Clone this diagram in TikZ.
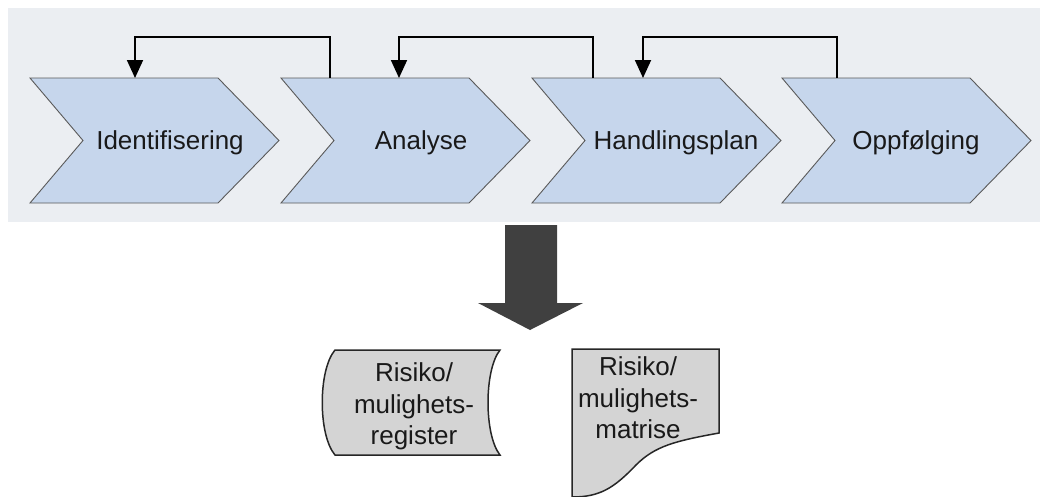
\documentclass[tikz,border=0pt]{standalone}
\usepackage{fontspec}
\setmainfont{Liberation Sans}
\usetikzlibrary{arrows.meta}
\definecolor{panel}{HTML}{EBEEF2}
\definecolor{chev}{HTML}{C6D6EC}
\definecolor{chevline}{HTML}{5A5A5A}
\definecolor{docfill}{HTML}{D4D4D4}
\definecolor{bigarrow}{HTML}{404040}
\tikzset{
  chevshape/.style={fill=chev, draw=chevline, line width=0.9pt, line join=miter},
  lbl/.style={font=\fontsize{26}{31.5}\selectfont, inner sep=0pt, text=black!90},
  fb/.style={draw=black, line width=1.8pt, -{Triangle[length=18pt,width=16pt]}},
  docshape/.style={fill=docfill, draw=black!85, line width=1.5pt},
}
\begin{document}
\begin{tikzpicture}[x=1pt,y=-1pt]
\useasboundingbox (0,0) rectangle (1040,496);
\fill[panel] (8,8) rectangle (1040,222);
% chevrons
\foreach \x in {30,281,532,782}{
  \filldraw[chevshape] (\x,78) -- ++(188,0) -- ++(61,62.5) -- ++(-61,62.5) -- ++(-188,0) -- ++(53,-62.5) -- cycle;
}
\node[lbl, anchor=base] (t1) at (170,149) {Identifisering};
\node[lbl, anchor=base] (t2) at (421,149) {Analyse};
\node[lbl, anchor=base] (t3) at (676,149) {Handlingsplan};
\node[lbl, anchor=base] (t4) at (916,149) {Oppfølging};
% feedback arrows
\coordinate (s1) at (330,78);
\coordinate (e1) at (135,78);
\coordinate (s2) at (593,78);
\coordinate (e2) at (399,78);
\coordinate (s3) at (837,78);
\coordinate (e3) at (643,78);
\draw[fb] (s1) -- ++(0,-41) -| (e1);
\draw[fb] (s2) -- ++(0,-41) -| (e2);
\draw[fb] (s3) -- ++(0,-41) -| (e3);
% big down arrow
\fill[bigarrow] (505,225) -- (557,225) -- (557,303) -- (583,303) -- (530,330) -- (478,303) -- (505,303) -- cycle;
% stored data shape
\filldraw[docshape] (335,350) -- (500,350) .. controls (484,370) and (484,435) .. (500,455) -- (335,455) .. controls (318,435) and (318,370) .. (335,350) -- cycle;
\node[lbl, align=center] (reg) at (414,406.7) {Risiko/\\mulighets-\\register};
% document shape
\filldraw[docshape] (572,500) -- (572,349) -- (719,349) -- (719,433) .. controls (675,441) and (655,446) .. (636,465) .. controls (614,488) and (600,497) .. (572,497) -- cycle;
\node[lbl, align=center] (mat) at (638,397.7) {Risiko/\\mulighets-\\matrise};
\end{tikzpicture}
\end{document}
